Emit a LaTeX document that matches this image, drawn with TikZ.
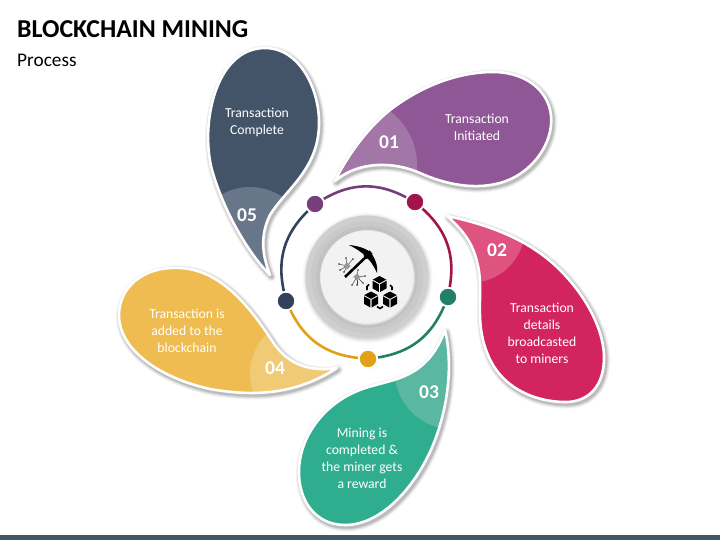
\documentclass[tikz,border=0pt]{standalone}
\usepackage{fontspec}
\setmainfont{Carlito}
\usetikzlibrary{shadows}
\definecolor{cA}{HTML}{8F5796}\definecolor{lA}{HTML}{A276A7}
\definecolor{cB}{HTML}{D2245F}\definecolor{lB}{HTML}{DE5380}
\definecolor{cC}{HTML}{2FAE8F}\definecolor{lC}{HTML}{5AB7A1}
\definecolor{cD}{HTML}{EEBC50}\definecolor{lD}{HTML}{F0CA75}
\definecolor{cE}{HTML}{435469}\definecolor{lE}{HTML}{68768A}
\definecolor{dA}{HTML}{743F7A}\definecolor{dB}{HTML}{A3154A}
\definecolor{dC}{HTML}{218068}\definecolor{dD}{HTML}{E0A116}
\definecolor{dE}{HTML}{33425A}
\definecolor{barc}{HTML}{44546A}
\tikzset{
  dotnode/.style={circle,draw=white,line width=1.8pt,inner sep=0pt,minimum size=18.5pt,
    drop shadow={shadow xshift=.6pt,shadow yshift=-.6pt,opacity=.3,fill=black}},
  ringline/.style={line width=2.6pt},
  label/.style={text=white,align=center,font=\fontsize{13.7}{17}\selectfont},
  numlabel/.style={text=white,font=\fontsize{19.5}{20}\selectfont\bfseries},
  petaledge/.style={draw=white,line width=2.6pt,line join=round},
}
% {path}{fill}{light}{circle centre}{circle radius}
\newcommand{\petalshape}[5]{%
  \foreach \w/\o in {9/.05,7/.06,5/.08,3.5/.10}{\draw[shift={(1.5,2)},draw=black,opacity=\o,line width=\w pt,line join=round] #1;}
  \fill[#2] #1;
  \begin{scope}\clip #1; \fill[#3] #4 circle (#5); \end{scope}
  \draw[petaledge] #1;
}
\newcommand{\cubeicon}[2]{%
  \begin{scope}[shift={(#1,#2)}]
    \fill[black] (0,-8)--(6.8,-4.4)--(0,-.7)--(-6.8,-4.4)--cycle;
    \fill[black] (-7,-3.2)--(-.6,.3)--(-.6,8)--(-7,4.4)--cycle;
    \fill[black] (7,-3.2)--(.6,.3)--(.6,8)--(7,4.4)--cycle;
  \end{scope}}
\begin{document}
\begin{tikzpicture}[x=1pt,y=-1pt]
\useasboundingbox (0,0) rectangle (720,540);
\fill[white] (0,0) rectangle (720,540);
\fill[barc] (0,535) rectangle (720,540);

\node[anchor=west,inner sep=0pt,font=\fontsize{25.8}{27}\selectfont\bfseries] (title) at (17,29) {BLOCKCHAIN MINING};
\node[anchor=west,inner sep=0pt,font=\fontsize{19.3}{21}\selectfont] (sub) at (17,60) {Process};

\petalshape{(335,181) .. controls (345,160) and (365,130) .. (390,110) .. controls (420,87) and (455,73) .. (490,72) .. controls (525,71) and (548,90) .. (551,115) .. controls (554,145) and (530,175) .. (500,183) .. controls (470,191) and (440,182) .. (420,173) .. controls (395,162) and (360,160) .. (335,181) -- cycle}{cA}{lA}{(350,165)}{67}
\petalshape{(447,216) .. controls (490,225) and (530,240) .. (560,270) .. controls (590,300) and (605,335) .. (604,360) .. controls (603,390) and (585,403) .. (563,402) .. controls (530,401) and (500,385) .. (488,355) .. controls (473,320) and (485,290) .. (477,262) .. controls (472,240) and (460,228) .. (447,216) -- cycle}{cB}{lB}{(470,228)}{55}
\petalshape{(445,330) .. controls (452,360) and (450,400) .. (435,440) .. controls (420,480) and (385,525) .. (345,525) .. controls (315,525) and (298,500) .. (299,470) .. controls (300,435) and (325,405) .. (355,392) .. controls (385,378) and (425,385) .. (445,330) -- cycle}{cC}{lC}{(452,372)}{57}
\petalshape{(337,368) .. controls (310,372) and (290,365) .. (275,345) .. controls (255,315) and (225,270) .. (180,268) .. controls (140,266) and (119,290) .. (119,315) .. controls (119,350) and (160,378) .. (210,389) .. controls (260,398) and (300,392) .. (337,368) -- cycle}{cD}{lD}{(303,373)}{53}
\petalshape{(270,275) .. controls (250,255) and (225,215) .. (212,170) .. controls (200,125) and (215,48) .. (265,48) .. controls (300,48) and (320,90) .. (319,125) .. controls (318,170) and (285,190) .. (270,215) .. controls (260,235) and (262,255) .. (270,275) -- cycle}{cE}{lE}{(250,245)}{58}

\node[label] (t1) at (477,127) {Transaction\\Initiated};
\node[label] (t2) at (542,333) {Transaction\\details\\broadcasted\\to miners};
\node[label] (t3) at (362,458) {Mining is\\completed \&\\the miner gets\\a reward};
\node[label] (t4) at (187,331) {Transaction is\\added to the\\blockchain};
\node[label] (t5) at (257,122) {Transaction\\Complete};
\node[numlabel] (n1) at (389,142) {01};
\node[numlabel] (n2) at (497,250) {02};
\node[numlabel] (n3) at (429,392) {03};
\node[numlabel] (n4) at (275,368) {04};
\node[numlabel] (n5) at (247,215) {05};

% centre
\foreach \w/\o in {65/.03,63.5/.04,62.5/.05}{\fill[black,opacity=\o] (367.5,278) circle (\w);}
\fill[black!19] (367,277) circle (61.5);
\fill[black!21] (367,277) circle (56);
\fill[black!24] (367,277) circle (51);
\fill[black!13] (367.5,277.5) circle (47.5);
\fill[black!5] (367,277) circle (46.5);

% pickaxe
\draw[black,line width=2.6pt] (345,277) -- (368,255);
\draw[black,line width=4.5pt] (365,257.5) -- (371,252);
\fill[black] (349,245) .. controls (360,246) and (371,250) .. (373,256) .. controls (376,261) and (378,267) .. (377,273) .. controls (374,266) and (370,260) .. (366,257) .. controls (362,252) and (355,248) .. (349,245) -- cycle;
% circuits
\foreach \cx/\cy/\pts in {347/266/{339/264,340/270,346/258,353/259,344/272},357/277/{365/276,363/283,357/285,352/285,358/270}}{
  \foreach \px/\py in \pts {
    \draw[black!75,line width=.45pt] (\cx,\cy) -- (\px,\py);
    \fill[black!80] (\px,\py) circle (.9);
  }
  \fill[black!40,rotate around={45:(\cx,\cy)}] (\cx-2.6,\cy-2.6) rectangle (\cx+2.6,\cy+2.6);
}
% cubes
\cubeicon{379.5}{284}
\cubeicon{371}{299.5}
\cubeicon{390}{299.5}
\draw[black,line width=1.6pt] (369,284.5) -- (367,286.5) -- (367,290);
\draw[black,line width=1.6pt] (390,285) -- (392,287) -- (392,290);
\draw[black,line width=1.6pt] (377,306.5) -- (380,308.5) -- (383,306.5);

% ring
\node[dotnode,fill=dA] (pa) at (315,204) {};
\node[dotnode,fill=dB] (pb) at (415,202) {};
\node[dotnode,fill=dC] (pc) at (448,297) {};
\node[dotnode,fill=dD] (pd) at (368,359) {};
\node[dotnode,fill=dE] (pe) at (286,301) {};
\draw[ringline,dA] (pa) to[bend left=29] (pb);
\draw[ringline,dB] (pb) to[bend left=29] (pc);
\draw[ringline,dC] (pc) to[bend left=29] (pd);
\draw[ringline,dD] (pd) to[bend left=29] (pe);
\draw[ringline,dE] (pe) to[bend left=29] (pa);
\end{tikzpicture}
\end{document}
